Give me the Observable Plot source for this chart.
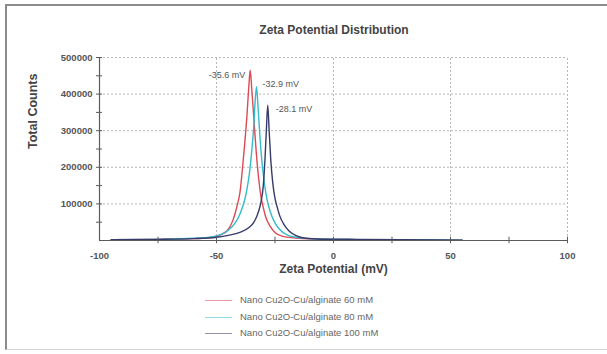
<!DOCTYPE html>
<html><head><meta charset="utf-8">
<script src="https://cdn.jsdelivr.net/npm/d3@7"></script>
<script src="https://cdn.jsdelivr.net/npm/@observablehq/plot@0.6"></script>
<style>
body{margin:0;background:#fff;font-family:"Liberation Sans",Arial,sans-serif;}
#wrap{position:relative;width:607px;height:354px;overflow:hidden;background:#fff;}
#frame{position:absolute;left:5px;top:4px;width:620px;height:346px;border-left:2px solid #8c8c8c;border-top:2px solid #8c8c8c;border-bottom:1px solid #d4d4d4;box-sizing:border-box;}
#title{position:absolute;left:184px;width:300px;top:23px;text-align:center;font-weight:bold;font-size:12px;color:#444;line-height:14px;}
#chart{position:absolute;left:0;top:0;}
.leg{position:absolute;left:205px;height:14px;font-size:9.5px;color:#666;line-height:14px;}
.leg span.sw{position:absolute;left:0;top:7px;width:27px;height:0;border-top:1.5px solid;opacity:0.55;}
.leg span.tx{position:absolute;left:35px;top:0;white-space:nowrap;}
</style></head>
<body>
<div id="wrap">
  <div id="frame"></div>
  <div id="chart"></div>
  <div id="title"></div>
  <div id="legend"></div>
</div>
<script>
const chartTitle = "Zeta Potential Distribution";
const xLabel = "Zeta Potential (mV)";
const yLabel = "Total Counts";
const seriesNames = ["Nano Cu2O-Cu/alginate 60 mM", "Nano Cu2O-Cu/alginate 80 mM", "Nano Cu2O-Cu/alginate 100 mM"];
const seriesColors = ["#dc4a55", "#35bccb", "#363b6c"];

const x60 = [-95,-75,-60,-52,-48,-45,-43,-42,-41,-40,-39,-38,-37,-36.2,-35.6,-35,-34,-33,-32,-31,-30,-29,-27,-25,-22,-15,-5,10,30,55];
const y60 = [2000,3000,5000,9000,16000,30000,55000,75000,100000,130000,190000,260000,340000,420000,465000,420000,330000,240000,170000,120000,90000,65000,38000,22000,12000,6000,4000,3000,2000,1000];

const x80 = [-95,-75,-60,-52,-48,-45,-42,-40,-38,-37,-36,-35,-34,-33.5,-32.9,-32.3,-31.5,-30.5,-29.5,-28.5,-27,-25,-23,-20,-15,-5,10,30,55];
const y80 = [2000,3000,6000,10000,17000,28000,48000,72000,110000,140000,180000,240000,320000,380000,420000,370000,290000,210000,155000,115000,78000,48000,30000,16000,8000,4000,3000,2000,1000];

const x100 = [-95,-75,-60,-50,-45,-40,-36,-34,-32,-31,-30,-29.3,-28.7,-28.1,-27.5,-26.8,-26,-25,-24,-23,-21,-19,-16,-12,-5,10,30,55];
const y100 = [2000,3000,5000,9000,14000,22000,36000,50000,80000,105000,150000,220000,300000,370000,300000,220000,160000,115000,90000,68000,42000,26000,13000,6000,3500,2500,2000,1000];

const peakLabels = ["-35.6 mV", "-32.9 mV", "-28.1 mV"];
const peakX = [-35.6, -32.9, -28.1];
const peakY = [465000, 420000, 370000];

const xTickLabels = [-100, -50, 0, 50, 100];
const xTicks = [-75, -50, -25, 0, 25, 50, 75, 100];
const yTickLabels = [100000, 200000, 300000, 400000, 500000];
const yTicks = [50000, 100000, 150000, 200000, 250000, 300000, 350000, 400000, 450000, 500000];
const xGrid = [-50, 0, 50, 100];
const yGrid = [100000, 200000, 300000, 400000, 500000];

const rows = [];
[[x60, y60], [x80, y80], [x100, y100]].forEach(([xs, ys], i) => {
  xs.forEach((x, j) => rows.push({series: seriesNames[i], x, y: ys[j]}));
});
const peaks = peakLabels.map((t, i) => ({t, x: peakX[i], y: peakY[i]}));

const grid = "#b8b8b8";
const axisC = "#5a5a5a";

const plot = Plot.plot({
  width: 607,
  height: 290,
  marginLeft: 99,
  marginRight: 40,
  marginTop: 57,
  marginBottom: 50,
  style: {fontFamily: "Liberation Sans, Arial, sans-serif", fontSize: "9.5px", background: "transparent", color: "#555"},
  x: {domain: [-100, 100]},
  y: {domain: [0, 500000]},
  color: {domain: seriesNames, range: seriesColors},
  marks: [
    Plot.ruleY(yGrid, {x1: -100, x2: 100, stroke: grid, strokeDasharray: "2,2"}),
    Plot.ruleX(xGrid, {y1: 0, y2: 500000, stroke: grid, strokeDasharray: "2,2"}),
    Plot.line(rows, {x: "x", y: "y", z: "series", stroke: "series", curve: "monotone-x", strokeWidth: 1.4}),
    Plot.ruleY([0], {x1: -100, x2: 100, stroke: axisC, strokeWidth: 1.2}),
    Plot.ruleX([-100], {y1: 0, y2: 500000, stroke: axisC, strokeWidth: 1.2}),
    Plot.ruleX(xTicks, {y1: -9000, y2: 9000, stroke: axisC}),
    Plot.ruleY(yTicks, {x1: -101.3, x2: -98.7, stroke: axisC}),
    Plot.axisX({ticks: xTickLabels, tickSize: 0, tickPadding: 12, label: null, fontWeight: "bold", fill: "#555", tickFormat: d => String(d)}),
    Plot.axisY({ticks: yTickLabels, tickSize: 0, tickPadding: 7, label: null, fontWeight: "bold", fill: "#555", tickFormat: d => String(d)}),
    Plot.text([xLabel], {frameAnchor: "bottom", dy: 32, fontSize: 12, fontWeight: "bold", fill: "#444"}),
    Plot.text([yLabel], {frameAnchor: "left", dx: -67, rotate: -90, fontSize: 12.5, fontWeight: "bold", fill: "#444"}),
    Plot.text([peaks[0]], {x: "x", y: "y", text: "t", textAnchor: "end", dx: -5, dy: 5, fontSize: 9, fill: "#555"}),
    Plot.text([peaks[1]], {x: "x", y: "y", text: "t", textAnchor: "start", dx: 6, dy: -3, fontSize: 9, fill: "#555"}),
    Plot.text([peaks[2]], {x: "x", y: "y", text: "t", textAnchor: "start", dx: 8, dy: 4, fontSize: 9, fill: "#555"})
  ]
});
document.getElementById("chart").appendChild(plot);
document.getElementById("title").textContent = chartTitle;

const leg = document.getElementById("legend");
seriesNames.forEach((n, i) => {
  const d = document.createElement("div");
  d.className = "leg";
  d.style.top = (293 + i * 16.5) + "px";
  d.innerHTML = `<span class="sw" style="border-color:${seriesColors[i]}"></span><span class="tx"></span>`;
  d.querySelector(".tx").textContent = n;
  leg.appendChild(d);
});
</script>
</body></html>
